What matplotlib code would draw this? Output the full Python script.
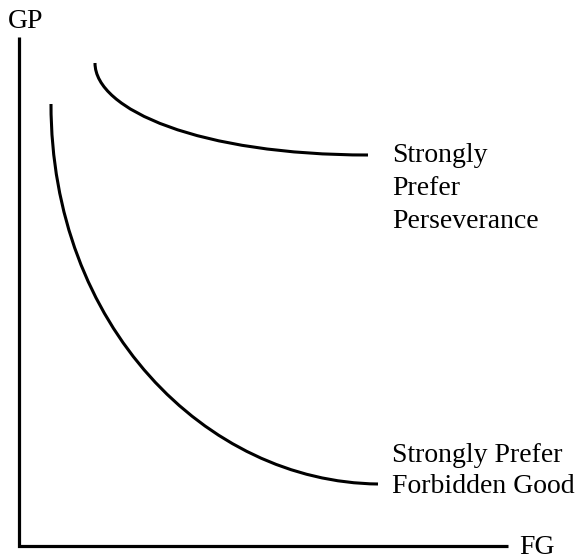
import matplotlib.pyplot as plt
from matplotlib.path import Path
from matplotlib.patches import PathPatch

# Each curve as a cubic Bezier: start, two control points, end
# (pixel-like coordinates, y pointing down)
pers_pts = [(95, 63), (95, 110), (200, 155), (368, 155)]
forb_pts = [(51, 104), (51, 325), (205, 482), (378, 484)]

pers_label = ["Strongly", "Prefer", "Perseverance"]
forb_label = ["Strongly Prefer", "Forbidden Good"]

plt.rcParams['font.family'] = ['Liberation Serif', 'DejaVu Serif']

fig = plt.figure(figsize=(5.81, 5.60), dpi=100)
ax = fig.add_axes([0, 0, 1, 1])
ax.set_xlim(0, 581)
ax.set_ylim(560, 0)
ax.axis('off')

# axes drawn as plain lines
ax.plot([19, 19, 508], [37, 546, 546], color='black', lw=2.3,
        solid_joinstyle='miter', solid_capstyle='butt')
ax.text(8, 28, "GP", fontsize=20, va='baseline', ha='left')
ax.text(519, 554, "FG", fontsize=20, va='baseline', ha='left')

codes = [Path.MOVETO, Path.CURVE4, Path.CURVE4, Path.CURVE4]
for pts in (pers_pts, forb_pts):
    ax.add_patch(PathPatch(Path(pts, codes), facecolor='none',
                           edgecolor='black', lw=2.2, capstyle='butt'))

for i, s in enumerate(pers_label):
    ax.text(392, 162 + 33 * i, s, fontsize=20, va='baseline', ha='left')
for i, s in enumerate(forb_label):
    ax.text(392, 462 + 31 * i, s, fontsize=20, va='baseline', ha='left')

fig.savefig('out.png', dpi=100)
